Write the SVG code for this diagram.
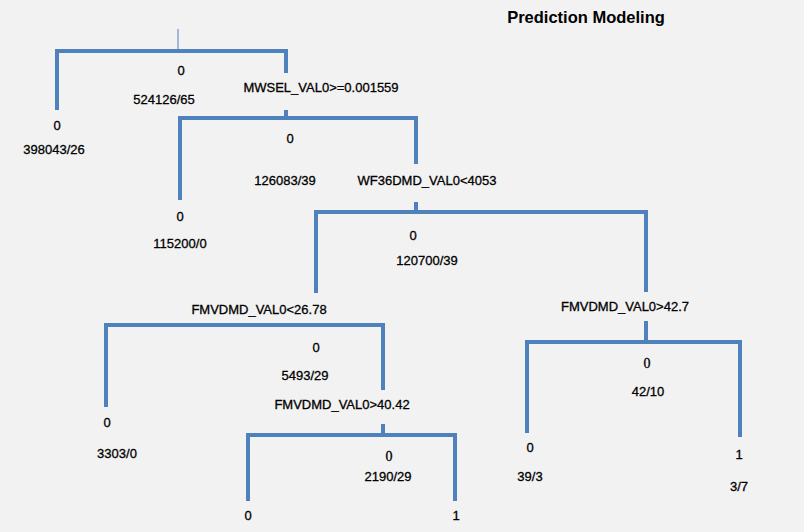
<svg xmlns="http://www.w3.org/2000/svg" width="804" height="532" viewBox="0 0 804 532">
<style>
.bg{fill:#f2f2f2}
.ln{fill:none;stroke:#4f81bd;stroke-width:4;stroke-linecap:butt;stroke-linejoin:miter}
.thin{fill:none;stroke:#4f81bd;stroke-width:1}
text{font-family:"Liberation Sans",Arial,sans-serif;font-size:13px;fill:#000;stroke:#000;stroke-width:0.3;text-anchor:middle}
.serif{font-family:"Liberation Serif","Times New Roman",serif;font-size:14px}
.title{font-size:16.5px;font-weight:bold;stroke:none}
</style>
<rect class="bg" x="0" y="0" width="804" height="532"/>
<text class="title" x="586" y="23">Prediction Modeling</text>
<g id="connectors">
<line class="thin" x1="178" y1="29" x2="178" y2="51"/>
<path class="ln" d="M57,110 V51 H286 V73"/>
<line class="ln" x1="286" y1="110" x2="286" y2="118"/>
<path class="ln" d="M180,200 V118 H416 V164"/>
<line class="ln" x1="416" y1="202" x2="416" y2="212"/>
<path class="ln" d="M316,293 V212 H646 V292"/>
<line class="ln" x1="646" y1="321" x2="646" y2="342"/>
<path class="ln" d="M527,433 V342 H740 V437"/>
<path class="ln" d="M106,407 V325 H383 V390"/>
<line class="ln" x1="383" y1="424" x2="383" y2="435"/>
<path class="ln" d="M248,501 V435 H455 V501"/>
</g>
<g id="root">
<text x="181" y="75">0</text>
<text x="164" y="104">524126/65</text>
</g>
<g id="split-mwsel"><text x="321" y="92">MWSEL_VAL0&gt;=0.001559</text></g>
<g id="leaf-398043">
<text x="57" y="130">0</text>
<text x="54" y="154">398043/26</text>
</g>
<g id="node-126083">
<text x="290" y="143">0</text>
<text x="285" y="185">126083/39</text>
</g>
<g id="split-wf36"><text x="427" y="185">WF36DMD_VAL0&lt;4053</text></g>
<g id="leaf-115200">
<text x="180" y="221">0</text>
<text x="180" y="248">115200/0</text>
</g>
<g id="node-120700">
<text x="413" y="240">0</text>
<text x="427" y="265">120700/39</text>
</g>
<g id="split-fmv2678"><text x="259" y="314">FMVDMD_VAL0&lt;26.78</text></g>
<g id="split-fmv427"><text x="625" y="311">FMVDMD_VAL0&gt;42.7</text></g>
<g id="leaf-3303">
<text x="107" y="427">0</text>
<text x="117" y="458">3303/0</text>
</g>
<g id="node-5493">
<text x="316" y="352">0</text>
<text x="305" y="380">5493/29</text>
</g>
<g id="split-fmv4042"><text x="342" y="409">FMVDMD_VAL0&gt;40.42</text></g>
<g id="node-2190">
<text class="serif" x="389" y="461">0</text>
<text x="388" y="481">2190/29</text>
</g>
<g id="leaf-0-bottom"><text x="248" y="520">0</text></g>
<g id="leaf-1-bottom"><text x="456" y="520">1</text></g>
<g id="node-42">
<text class="serif" x="647" y="368">0</text>
<text x="648" y="396">42/10</text>
</g>
<g id="leaf-39">
<text x="530" y="452">0</text>
<text x="530" y="481">39/3</text>
</g>
<g id="leaf-3-7">
<text x="739" y="459">1</text>
<text x="739" y="491">3/7</text>
</g>
</svg>
